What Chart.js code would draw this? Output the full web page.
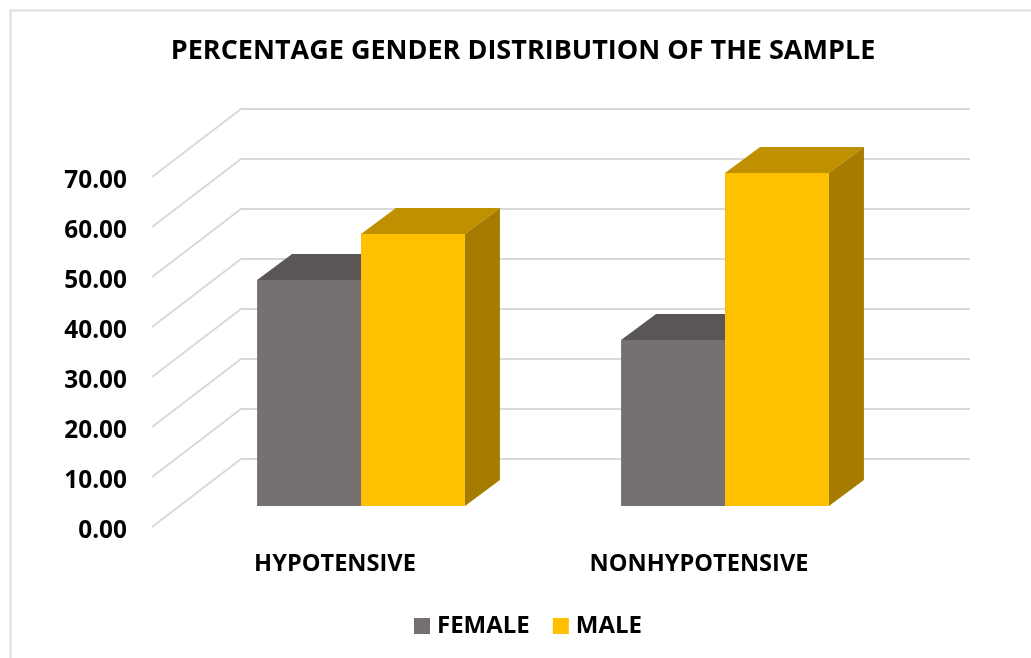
<!DOCTYPE html>
<html>
<head>
<meta charset="utf-8">
<title>Percentage gender distribution of the sample</title>
<script src="https://cdn.jsdelivr.net/npm/chart.js@4"></script>
<style>
  body { margin: 0; background: #fff; }
  canvas { display: block; }
</style>
</head>
<body>
<canvas id="chart" width="1031" height="658"></canvas>
<script>
const categories = ['HYPOTENSIVE', 'NONHYPOTENSIVE'];
const female = [45.2, 33.2];
const male = [54.4, 66.6];
const yTicks = [0, 10, 20, 30, 40, 50, 60, 70];

const FONT = '"Open Sans", sans-serif';
const GRID = '#d9d9d9';

// the "3D" look: side and top faces of each bar, slanted walls behind them
const depth = { x: 35, y: 26 };
const faces = [
  { top: '#5a5655', side: '#4f4c4b' },
  { top: '#bf9000', side: '#a67c00' }
];

const wall3d = {
  id: 'wall3d',
  afterLayout(chart) {
    // title and legend are not centred on the canvas in the original
    const t = chart.titleBlock, l = chart.legend;
    t.left = 0; t.right = 1046;
    l.left = 0; l.right = 1061;
    const h = l.bottom - l.top;
    l.top = 586; l.bottom = 586 + h;
  },
  beforeDraw(chart) {
    const c = chart.ctx;
    c.save();
    c.strokeStyle = '#dedede';
    c.lineWidth = 2;
    c.beginPath();
    c.moveTo(10.5, 658);
    c.lineTo(10.5, 10.5);
    c.lineTo(1031, 10.5);
    c.stroke();
    c.restore();
  },
  beforeDatasetsDraw(chart) {
    const c = chart.ctx, y = chart.scales.y;
    c.save();
    c.strokeStyle = GRID;
    c.lineWidth = 2;
    yTicks.forEach(v => {
      const py = y.getPixelForValue(v);
      c.beginPath();
      c.moveTo(152, py + 21);
      c.lineTo(241, py - 47);
      c.lineTo(970, py - 47);
      c.stroke();
    });
    chart.data.datasets.forEach((ds, i) => {
      chart.getDatasetMeta(i).data.forEach(bar => {
        const l = bar.x - bar.width / 2, r = bar.x + bar.width / 2;
        c.fillStyle = faces[i].top;
        c.beginPath();
        c.moveTo(l, bar.y);
        c.lineTo(l + depth.x, bar.y - depth.y);
        c.lineTo(r + depth.x, bar.y - depth.y);
        c.lineTo(r, bar.y);
        c.closePath();
        c.fill();
        c.fillStyle = faces[i].side;
        c.beginPath();
        c.moveTo(r, bar.y);
        c.lineTo(r + depth.x, bar.y - depth.y);
        c.lineTo(r + depth.x, bar.base - depth.y);
        c.lineTo(r, bar.base);
        c.closePath();
        c.fill();
      });
    });
    c.restore();
  }
};

new Chart(document.getElementById('chart'), {
  type: 'bar',
  data: {
    labels: categories,
    datasets: [
      { label: 'FEMALE', data: female, backgroundColor: '#767171' },
      { label: 'MALE', data: male, backgroundColor: '#ffc000' }
    ]
  },
  plugins: [wall3d],
  options: {
    responsive: false,
    animation: false,
    layout: { padding: { right: 124 } },
    categoryPercentage: 0.571,
    barPercentage: 1,
    plugins: {
      tooltip: { enabled: false },
      title: {
        display: true,
        text: 'PERCENTAGE GENDER DISTRIBUTION OF THE SAMPLE',
        color: '#000',
        font: { family: FONT, size: 27, weight: 'bold', lineHeight: 1.2 },
        padding: { top: 35, bottom: 88.6 }
      },
      legend: {
        position: 'bottom',
        labels: {
          color: '#000',
          font: { family: FONT, size: 24, weight: 'bold' },
          // small box with a thick stroke: keeps a 16px square close to its text
          boxWidth: 6,
          boxHeight: 6,
          padding: 28,
          generateLabels(chart) {
            return Chart.defaults.plugins.legend.labels.generateLabels(chart).map(item => ({
              ...item, lineWidth: 10, strokeStyle: item.fillStyle
            }));
          }
        }
      }
    },
    scales: {
      x: {
        grid: { display: false },
        border: { display: false },
        afterFit(s) { s.height = 90; },
        ticks: {
          color: '#000',
          font: { family: FONT, size: 23.6, weight: 'bold' },
          padding: 36,
          labelOffset: -26,
          maxRotation: 0
        }
      },
      y: {
        min: 0,
        max: 70,
        grid: { display: false, drawTicks: false },
        border: { display: false },
        afterFit(s) { s.width = 179; },
        afterBuildTicks(s) { s.ticks = yTicks.map(v => ({ value: v })); },
        ticks: {
          color: '#000',
          font: { family: FONT, size: 24.4, weight: 'bold' },
          padding: 52,
          labelOffset: 25,
          callback: v => v.toFixed(2)
        }
      }
    }
  }
});
</script>
</body>
</html>
